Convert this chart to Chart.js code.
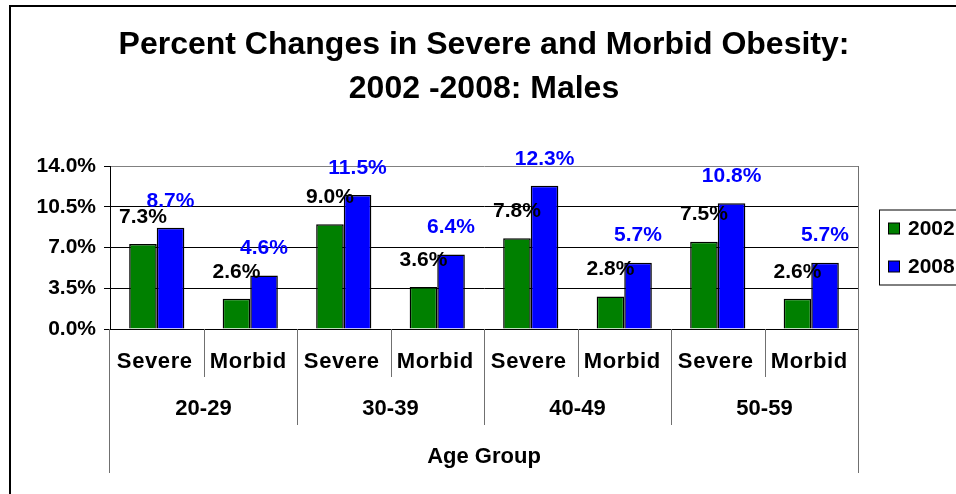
<!DOCTYPE html>
<html>
<head>
<meta charset="utf-8">
<script src="https://cdn.jsdelivr.net/npm/chart.js@4.4.1/dist/chart.umd.min.js"></script>
<style>
    html, body { margin: 0; padding: 0; background: #fff; }
    #wrap { width: 956px; height: 494px; }
</style>
</head>
<body>
<div id="wrap"><canvas id="chart" width="956" height="494"></canvas></div>
<script>
// Данные графика
const ageGroups = ['20-29', '30-39', '40-49', '50-59'];
const obesityTypes = ['Severe', 'Morbid'];
const values2002 = [7.3, 2.6, 9.0, 3.6, 7.8, 2.8, 7.5, 2.6];
const values2008 = [8.7, 4.6, 11.5, 6.4, 12.3, 5.7, 10.8, 5.7];
const yTicks = [0, 3.5, 7, 10.5, 14];
const titleLines = ['Percent Changes in Severe and Morbid Obesity:', '2002 -2008: Males'];
const xAxisTitle = 'Age Group';

const FONT = '"Liberation Sans", Arial, sans-serif';
const categories = ageGroups.flatMap(g => obesityTypes.map(t => g + ' ' + t));

// Рамка вокруг всей картинки
const framePlugin = {
    id: 'frame',
    beforeDraw(chart) {
        const ctx = chart.ctx;
        ctx.save();
        ctx.fillStyle = '#fff';
        ctx.fillRect(0, 0, chart.width, chart.height);
        ctx.strokeStyle = '#000';
        ctx.lineWidth = 2;
        ctx.beginPath();
        ctx.moveTo(10, chart.height + 5);
        ctx.lineTo(10, 6);
        ctx.lineTo(chart.width + 5, 6);
        ctx.stroke();
        ctx.restore();
    }
};

// Подписи значений над столбцами
const valueLabels = {
    id: 'valueLabels',
    afterDatasetsDraw(chart) {
        const ctx = chart.ctx;
        ctx.save();
        ctx.font = 'bold 21px ' + FONT;
        ctx.textAlign = 'center';
        ctx.textBaseline = 'middle';
        chart.data.datasets.forEach((ds, di) => {
            const meta = chart.getDatasetMeta(di);
            ctx.fillStyle = ds.labelColor;
            meta.data.forEach((bar, i) => {
                ctx.fillText(ds.data[i].toFixed(1) + '%', bar.x, bar.y - 27);
            });
        });
        ctx.restore();
    }
};

// Многоуровневая ось категорий (таблица под графиком)
const categoryTable = {
    id: 'categoryTable',
    afterDraw(chart) {
        const ctx = chart.ctx;
        const area = chart.chartArea;
        const x = chart.scales.x;
        const bottom = area.bottom;
        const n = categories.length;
        const mid = i => (x.getPixelForValue(i - 1) + x.getPixelForValue(i)) / 2;

        ctx.save();
        ctx.strokeStyle = '#707070';
        ctx.lineWidth = 1;
        ctx.beginPath();
        // правая граница области построения
        ctx.moveTo(area.right + 0.5, area.top);
        ctx.lineTo(area.right + 0.5, bottom + 144);
        ctx.moveTo(area.left - 0.5, bottom);
        ctx.lineTo(area.left - 0.5, bottom + 144);
        for (let i = 1; i < n; i++) {
            const px = Math.round(mid(i)) + 0.5;
            ctx.moveTo(px, bottom);
            ctx.lineTo(px, bottom + (i % 2 === 0 ? 96 : 48));
        }
        ctx.stroke();

        ctx.fillStyle = '#000';
        ctx.textAlign = 'center';
        ctx.textBaseline = 'middle';
        ctx.font = 'bold 22px ' + FONT;
        ctx.letterSpacing = '0.6px';
        categories.forEach((c, i) => {
            ctx.fillText(obesityTypes[i % obesityTypes.length], x.getPixelForValue(i) - 2, bottom + 33);
        });
        ctx.letterSpacing = '0px';
        ageGroups.forEach((g, gi) => {
            const a = x.getPixelForValue(gi * 2);
            const b = x.getPixelForValue(gi * 2 + 1);
            ctx.fillText(g, (a + b) / 2, bottom + 80);
        });
        ctx.fillText(xAxisTitle, (area.left + area.right) / 2, bottom + 128);
        ctx.restore();
    }
};

// Легенда в рамке справа
const boxLegend = {
    id: 'boxLegend',
    afterDraw(chart) {
        const ctx = chart.ctx;
        const area = chart.chartArea;
        const left = area.right + 21;
        const top = (area.top + area.bottom) / 2 - 38;
        ctx.save();
        ctx.strokeStyle = '#000';
        ctx.lineWidth = 1;
        ctx.strokeRect(left + 0.5, top + 0.5, 100, 75);
        ctx.font = 'bold 21px ' + FONT;
        ctx.textBaseline = 'middle';
        chart.data.datasets.forEach((ds, i) => {
            const cy = top + 19 + i * 38;
            ctx.fillStyle = ds.backgroundColor;
            ctx.fillRect(left + 9.5, cy - 5.5, 11, 11);
            ctx.strokeRect(left + 9.5, cy - 5.5, 11, 11);
            ctx.fillStyle = '#000';
            ctx.fillText(ds.label, left + 29, cy + 1);
        });
        ctx.restore();
    }
};

new Chart(document.getElementById('chart'), {
    type: 'bar',
    data: {
        labels: categories,
        datasets: [
            {
                label: '2002',
                data: values2002,
                backgroundColor: '#008000',
                borderColor: '#000',
                borderWidth: 1.5,
                labelColor: '#000'
            },
            {
                label: '2008',
                data: values2008,
                backgroundColor: '#0000FF',
                borderColor: '#000',
                borderWidth: 1.5,
                labelColor: '#0000FF'
            }
        ]
    },
    options: {
        responsive: false,
        animation: false,
        devicePixelRatio: 1,
        layout: { padding: { left: 8, right: 98, top: 0, bottom: 0 } },
        datasets: { bar: { categoryPercentage: 0.59, barPercentage: 1 } },
        plugins: {
            legend: { display: false },
            tooltip: { enabled: false },
            title: {
                display: true,
                fullSize: false,
                text: titleLines,
                color: '#000',
                font: { family: FONT, size: 32, weight: 'bold', lineHeight: 1.375 },
                padding: { top: 23, bottom: 55 }
            }
        },
        scales: {
            x: {
                ticks: { display: false },
                grid: { display: false },
                border: { display: true, color: '#000', width: 1 },
                afterFit(scale) { scale.height = 165; }
            },
            y: {
                min: 0,
                max: 14,
                afterBuildTicks(scale) { scale.ticks = yTicks.map(v => ({ value: v })); },
                ticks: {
                    padding: 8,
                    color: '#000',
                    font: { family: FONT, size: 21, weight: 'bold' },
                    callback: v => v.toFixed(1) + '%'
                },
                grid: {
                    color: ctx => ctx.tick && ctx.tick.value === 14 ? '#808080' : '#000',
                    tickColor: '#000',
                    tickLength: 6,
                    lineWidth: 1
                },
                border: { display: true, color: '#000', width: 1 },
                afterFit(scale) { scale.width = 102; }
            }
        }
    },
    plugins: [framePlugin, valueLabels, categoryTable, boxLegend]
});
</script>
</body>
</html>
